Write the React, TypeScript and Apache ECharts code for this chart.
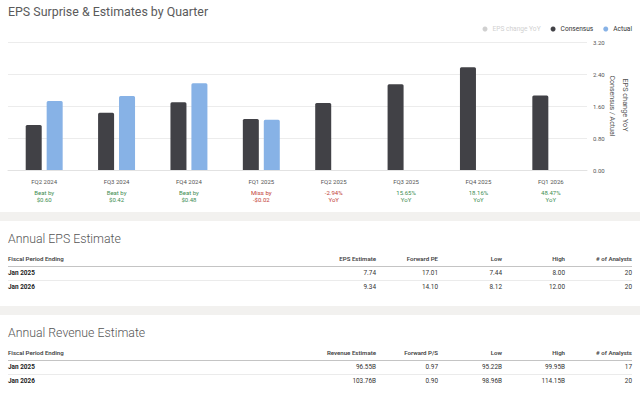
import React, { useEffect, useRef } from "react";
import * as echarts from "echarts";

const categories = ["FQ2 2024", "FQ3 2024", "FQ4 2024", "FQ1 2025", "FQ2 2025", "FQ3 2025", "FQ4 2025", "FQ1 2026"];
const consensus = [1.13, 1.44, 1.7, 1.28, 1.68, 2.15, 2.58, 1.87];
const actual: (number | null)[] = [1.73, 1.86, 2.18, 1.26, null, null, null, null];
const epsChangeYoY: (number | null)[] = [null, null, null, null, -2.94, 15.65, 18.16, 48.47];
const surpriseLine1 = ["Beat by", "Beat by", "Beat by", "Miss by", "-2.94%", "15.65%", "18.16%", "48.47%"];
const surpriseLine2 = ["$0.60", "$0.42", "$0.48", "-$0.02", "YoY", "YoY", "YoY", "YoY"];
const surpriseTone = ["g", "g", "g", "r", "r", "g", "g", "g"];
const yMin = 0;
const yMax = 3.2;
const yInterval = 0.8;
const axisNames = ["Consensus / Actual", "EPS change YoY"];

const epsColumns = ["Fiscal Period Ending", "EPS Estimate", "Forward PE", "Low", "High", "# of Analysts"];
const epsRow2025 = ["Jan 2025", "7.74", "17.01", "7.44", "8.00", "20"];
const epsRow2026 = ["Jan 2026", "9.34", "14.10", "8.12", "12.00", "20"];
const revColumns = ["Fiscal Period Ending", "Revenue Estimate", "Forward P/S", "Low", "High", "# of Analysts"];
const revRow2025 = ["Jan 2025", "96.55B", "0.97", "95.22B", "99.95B", "17"];
const revRow2026 = ["Jan 2026", "103.76B", "0.90", "98.96B", "114.15B", "20"];

const FONT = "Roboto, 'Helvetica Neue', Arial, sans-serif";
const colRightEdges = [376, 438, 502, 565, 632];

function Table({ title, columns, rows }: { title: string; columns: string[]; rows: string[][] }) {
  const cell = (text: string, idx: number, style: React.CSSProperties) =>
    idx === 0 ? (
      <div key={idx} style={{ position: "absolute", left: 8, top: 0, whiteSpace: "nowrap", ...style }}>{text}</div>
    ) : (
      <div key={idx} style={{ position: "absolute", right: 640 - colRightEdges[idx - 1], top: 0, textAlign: "right", whiteSpace: "nowrap", ...style }}>{text}</div>
    );
  return (
    <div style={{ position: "relative", width: 640, height: "100%", background: "#fff" }}>
      <div style={{ position: "absolute", left: 8, top: 10, height: 16, lineHeight: "16px", fontSize: 12.3, fontWeight: 300, color: "#555", whiteSpace: "nowrap" }}>{title}</div>
      <div style={{ position: "absolute", left: 8, width: 624, top: 31, height: 14, borderBottom: "1px solid #c4c4c4" }} />
      <div style={{ position: "absolute", left: 0, width: 640, top: 31, height: 14, lineHeight: "14px", fontSize: 6.1, fontWeight: 600, color: "#444" }}>
        {columns.map((c, i) => cell(c, i, { lineHeight: "14px" }))}
      </div>
      {rows.map((r, ri) => (
        <div key={ri} style={{ position: "absolute", left: 0, width: 640, top: 46 + ri * 14, height: 13, lineHeight: "13px", fontSize: 6.4, color: "#333" }}>
          {ri === 0 ? <div style={{ position: "absolute", left: 8, width: 624, top: 13, height: 1, background: "#ebebeb" }} /> : null}
          {r.map((c, i) => cell(c, i, { lineHeight: "13px", fontWeight: i === 0 ? 700 : 400, color: i === 0 ? "#222" : "#333" }))}
        </div>
      ))}
    </div>
  );
}

export default function App() {
  const ref = useRef<HTMLDivElement>(null);
  useEffect(() => {
    if (!ref.current) return;
    const chart = echarts.init(ref.current, undefined, { renderer: "svg" });
    const option: any = {
      animation: false,
      backgroundColor: "#fff",
      textStyle: { fontFamily: FONT },
      title: {
        text: "EPS Surprise & Estimates by Quarter",
        left: 8,
        top: 5,
        padding: 0,
        textStyle: { fontSize: 12.4, fontWeight: 400, color: "#5a5a5a", fontFamily: FONT },
      },
      legend: {
        data: ["EPS change YoY", "Consensus", "Actual"],
        right: 8,
        top: 25.5,
        icon: "circle",
        itemWidth: 5,
        itemHeight: 5,
        itemGap: 10,
        padding: 0,
        selected: { "EPS change YoY": false },
        inactiveColor: "#d0d0d0",
        textStyle: { fontSize: 6.6, color: "#333", fontFamily: FONT },
      },
      grid: { left: 8, right: 53, top: 42.5, bottom: 42, containLabel: false },
      graphic: [
        {
          type: "text",
          x: 612,
          y: 106,
          rotation: -Math.PI / 2,
          style: { text: axisNames[0], fontSize: 7, fill: "#555", align: "center", verticalAlign: "middle", fontFamily: FONT },
        },
        {
          type: "text",
          x: 625,
          y: 105,
          rotation: -Math.PI / 2,
          style: { text: axisNames[1], fontSize: 7.3, fill: "#555", align: "center", verticalAlign: "middle", fontFamily: FONT },
        },
      ],
      xAxis: {
        type: "category",
        data: categories,
        axisTick: { show: false },
        axisLine: { lineStyle: { color: "#e2e2e2" } },
        axisLabel: {
          interval: 0,
          margin: 3.5,
          formatter: (v: string, i: number) =>
            `{q|${v}}\n{${surpriseTone[i]}|${surpriseLine1[i]}}\n{${surpriseTone[i]}|${surpriseLine2[i]}}`,
          rich: {
            q: { fontSize: 6, color: "#555", lineHeight: 15, fontFamily: FONT },
            g: { fontSize: 6, color: "#3e8e52", lineHeight: 7, fontFamily: FONT },
            r: { fontSize: 6, color: "#c23b33", lineHeight: 7, fontFamily: FONT },
          },
        },
      },
      yAxis: [
        {
          type: "value",
          position: "right",
          min: yMin,
          max: yMax,
          interval: yInterval,
          axisLabel: { fontSize: 6, color: "#555", margin: 6, formatter: (v: number) => v.toFixed(2) },
          axisLine: { show: false },
          axisTick: { show: false },
          splitLine: { lineStyle: { color: "#ececec" } },
        },
        {
          type: "value",
          position: "right",
          axisLabel: { show: false },
          axisLine: { show: false },
          axisTick: { show: false },
          splitLine: { show: false },
        },
      ],
      series: [
        {
          name: "EPS change YoY",
          type: "line",
          yAxisIndex: 1,
          data: epsChangeYoY,
          itemStyle: { color: "#c8c8c8" },
          lineStyle: { color: "#c8c8c8" },
        },
        {
          name: "Consensus",
          type: "bar",
          yAxisIndex: 0,
          data: consensus,
          barWidth: 16,
          barGap: "31%",
          itemStyle: { color: "#414146", borderRadius: [1.5, 1.5, 0, 0] },
        },
        {
          name: "Actual",
          type: "bar",
          yAxisIndex: 0,
          data: actual,
          barWidth: 16,
          barGap: "31%",
          itemStyle: { color: "#87b2e6", borderRadius: [1.5, 1.5, 0, 0] },
        },
      ],
    };
    chart.setOption(option);
    return () => chart.dispose();
  }, []);

  return (
    <div style={{ position: "fixed", left: 0, top: 0, width: 640, height: 393, background: "#f2f1ef", fontFamily: FONT, overflow: "hidden" }}>
      <div ref={ref} style={{ position: "absolute", left: 0, top: 0, width: 640, height: 212 }} />
      <div style={{ position: "absolute", left: 0, top: 221, width: 640, height: 85 }}>
        <Table title="Annual EPS Estimate" columns={epsColumns} rows={[epsRow2025, epsRow2026]} />
      </div>
      <div style={{ position: "absolute", left: 0, top: 315, width: 640, height: 78 }}>
        <Table title="Annual Revenue Estimate" columns={revColumns} rows={[revRow2025, revRow2026]} />
      </div>
    </div>
  );
}
